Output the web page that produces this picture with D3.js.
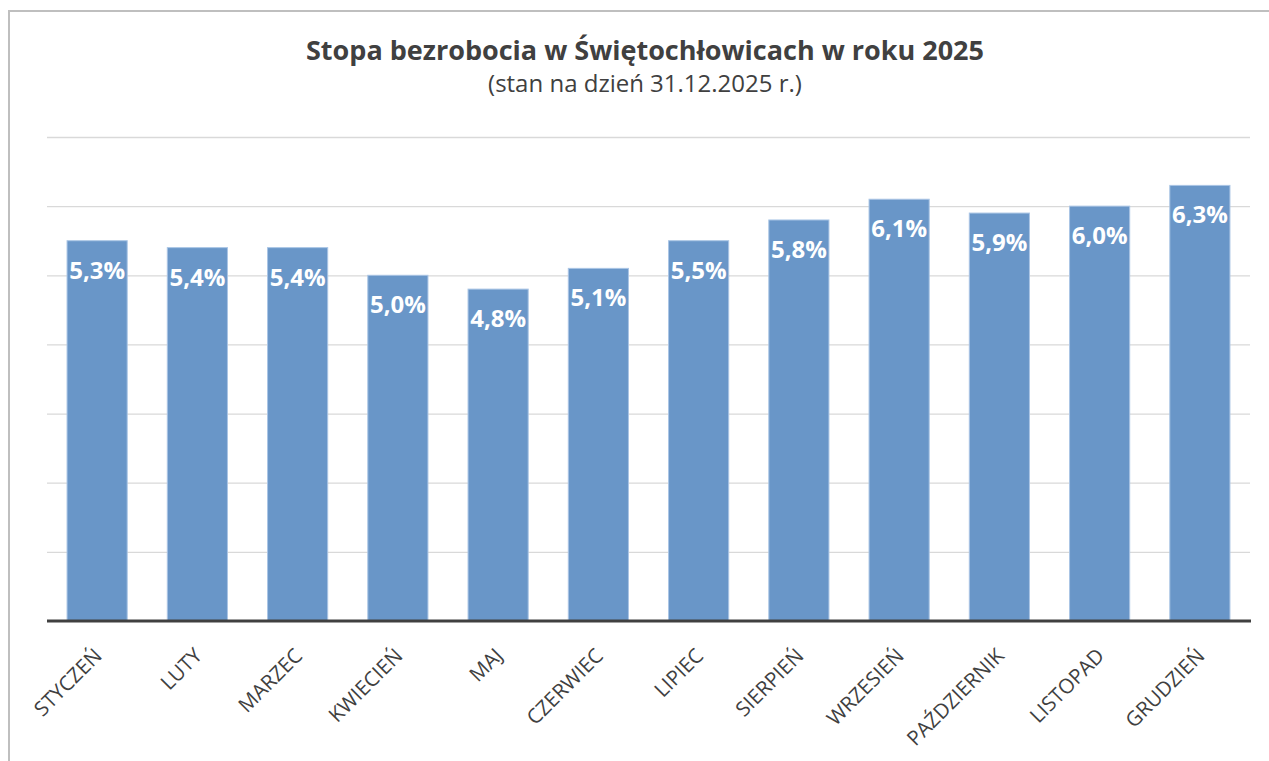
<!DOCTYPE html>
<html>
<head>
<meta charset="utf-8">
<style>
  body { margin: 0; background: #fff; }
  .grid line { stroke: #d9d9d9; stroke-width: 1.3px; }
  .grid .domain { display: none; }
  .xlab { font: 20.5px "Open Sans", sans-serif; fill: #404040; }
  .val { font: bold 24px "Open Sans", sans-serif; fill: #fff; }
</style>
</head>
<body>
<svg id="chart" width="1269" height="761"></svg>

<script src="https://d3js.org/d3.v7.min.js"></script>
<script>
  const months = ["STYCZEŃ", "LUTY", "MARZEC", "KWIECIEŃ", "MAJ", "CZERWIEC",
    "LIPIEC", "SIERPIEŃ", "WRZESIEŃ", "PAŹDZIERNIK", "LISTOPAD", "GRUDZIEŃ"];
  // bar heights as drawn in the reference
  const barValues = [5.5, 5.4, 5.4, 5.0, 4.8, 5.1, 5.5, 5.8, 6.1, 5.9, 6.0, 6.3];
  // data labels as printed (first one differs from its bar in the original)
  const labelValues = [5.3, 5.4, 5.4, 5.0, 4.8, 5.1, 5.5, 5.8, 6.1, 5.9, 6.0, 6.3];
  const gridTicks = [1, 2, 3, 4, 5, 6, 7];

  const svg = d3.select("#chart");

  // outer frame (left + top edge visible)
  svg.append("path")
    .attr("d", "M9,761V11H1269")
    .attr("fill", "none")
    .attr("stroke", "#bfbfbf")
    .attr("stroke-width", 2);

  svg.append("text")
    .attr("x", 645).attr("y", 60)
    .attr("text-anchor", "middle")
    .style("font", "bold 27px 'Open Sans', sans-serif")
    .attr("fill", "#404040")
    .text("Stopa bezrobocia w Świętochłowicach w roku 2025");

  svg.append("text")
    .attr("x", 645).attr("y", 92)
    .attr("text-anchor", "middle")
    .style("font", "24px 'Open Sans', sans-serif")
    .attr("fill", "#404040")
    .text("(stan na dzień 31.12.2025 r.)");

  const x = d3.scaleBand().domain(months).range([47, 1250]).paddingInner(0.4).paddingOuter(0.2);
  const y = d3.scaleLinear().domain([0, 7]).range([621, 137]);

  svg.append("g")
    .attr("class", "grid")
    .attr("transform", "translate(47,0)")
    .call(d3.axisLeft(y).tickValues(gridTicks).tickSize(-1203).tickFormat(""));

  const bars = svg.append("g")
    .selectAll("g")
    .data(months)
    .join("g");

  bars.append("rect")
    .attr("x", d => x(d))
    .attr("width", x.bandwidth())
    .attr("y", (d, i) => y(barValues[i]))
    .attr("height", (d, i) => y(0) - y(barValues[i]))
    .attr("fill", "#6996c8")
    .attr("stroke", "#aac5e5")
    .attr("stroke-width", 1);

  const fmt = d3.format(".1f");
  bars.append("text")
    .attr("class", "val")
    .attr("x", d => x(d) + x.bandwidth() / 2)
    .attr("y", (d, i) => y(barValues[i]) + 38)
    .attr("text-anchor", "middle")
    .text((d, i) => fmt(labelValues[i]).replace(".", ",") + "%");

  // category axis
  svg.append("line")
    .attr("x1", 47).attr("x2", 1251)
    .attr("y1", y(0)).attr("y2", y(0))
    .attr("stroke", "#404040")
    .attr("stroke-width", 3);

  svg.append("g")
    .selectAll("text")
    .data(months)
    .join("text")
    .attr("class", "xlab")
    .attr("text-anchor", "end")
    .attr("transform", d => `translate(${x(d) + x.bandwidth() / 2 + 6},657) rotate(-45)`)
    .text(d => d);
</script>
</body>
</html>
